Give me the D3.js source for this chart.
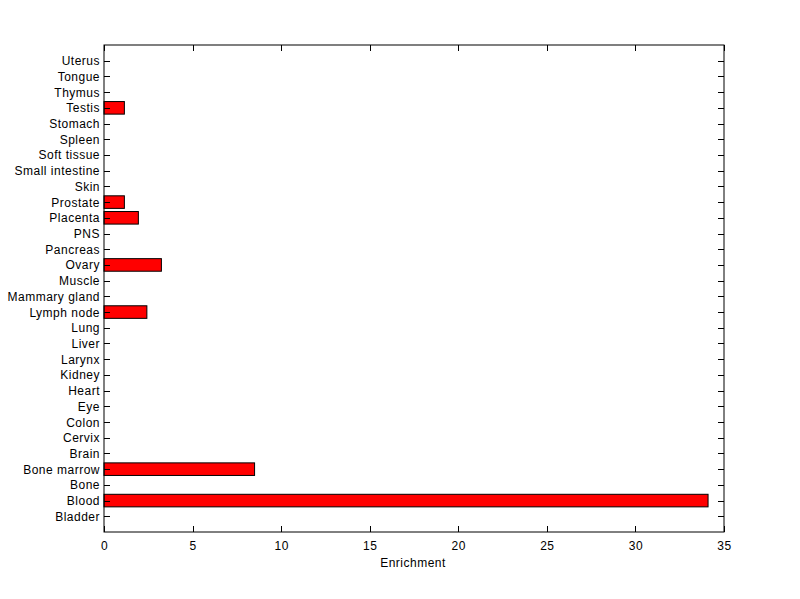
<!DOCTYPE html>
<html><head><meta charset="utf-8">
<script src="https://cdn.jsdelivr.net/npm/d3@7/dist/d3.min.js"></script>
<style>body{margin:0;background:#fff;}svg{display:block;font-family:"Liberation Sans",Arial,sans-serif;letter-spacing:0.5px;}</style>
</head><body><svg id="c" width="800" height="599"></svg>
<script>
const categories = ["Bladder","Blood","Bone","Bone marrow","Brain","Cervix","Colon","Eye","Heart","Kidney","Larynx","Liver","Lung","Lymph node","Mammary gland","Muscle","Ovary","Pancreas","PNS","Placenta","Prostate","Skin","Small intestine","Soft tissue","Spleen","Stomach","Testis","Thymus","Tongue","Uterus"];
const values = [0,34.1,0,8.5,0,0,0,0,0,0,0,0,0,2.42,0,0,3.24,0,0,1.94,1.15,0,0,0,0,0,1.15,0,0,0];
const xTicks = [0,5,10,15,20,25,30,35];
const xLabel = "Enrichment";

const svg = d3.select("#c");
const L=104, R=724, T=45, B=532;
const x = d3.scaleLinear().domain([0,35]).range([L,R]);
const y = d3.scaleLinear().domain([0,31]).range([B,T]);
const bw = (y(0)-y(0.8));

svg.append("rect").attr("x",0).attr("y",0).attr("width",800).attr("height",599).attr("fill","#fff");

// bars
svg.append("g").selectAll("rect").data(values.map((v,i)=>({v,i})).filter(d=>d.v>0)).join("rect")
  .attr("x",x(0)).attr("y",d=>y(d.i+1)-bw/2)
  .attr("width",d=>x(d.v)-x(0)).attr("height",bw)
  .attr("fill","#ff0000").attr("stroke","#000").attr("stroke-width",1);

// box
svg.append("rect").attr("x",L).attr("y",T).attr("width",R-L).attr("height",B-T)
  .attr("fill","none").attr("stroke","#000").attr("stroke-width",1);

const tl=6;
const g = svg.append("g").attr("stroke","#000").attr("stroke-width",1);
xTicks.forEach(t=>{
  const px=Math.round(x(t))+0.5;
  g.append("line").attr("x1",px).attr("x2",px).attr("y1",B).attr("y2",B-tl);
  g.append("line").attr("x1",px).attr("x2",px).attr("y1",T).attr("y2",T+tl);
});
categories.forEach((c,i)=>{
  const py=Math.round(y(i+1))+0.5;
  g.append("line").attr("x1",L).attr("x2",L+tl).attr("y1",py).attr("y2",py);
  g.append("line").attr("x1",R).attr("x2",R-tl).attr("y1",py).attr("y2",py);
});

// labels
svg.append("g").selectAll("text").data(xTicks).join("text")
  .attr("x",d=>x(d)+0.5).attr("y",B+18).attr("text-anchor","middle")
  .attr("font-size",12).text(d=>d);
svg.append("g").selectAll("text").data(categories).join("text")
  .attr("x",L-4).attr("y",(d,i)=>y(i+1)+4.5).attr("text-anchor","end")
  .attr("font-size",12).text(d=>d);
svg.append("text").attr("x",(L+R)/2-1).attr("y",B+35).attr("text-anchor","middle")
  .attr("font-size",12).text(xLabel);
</script></body></html>
